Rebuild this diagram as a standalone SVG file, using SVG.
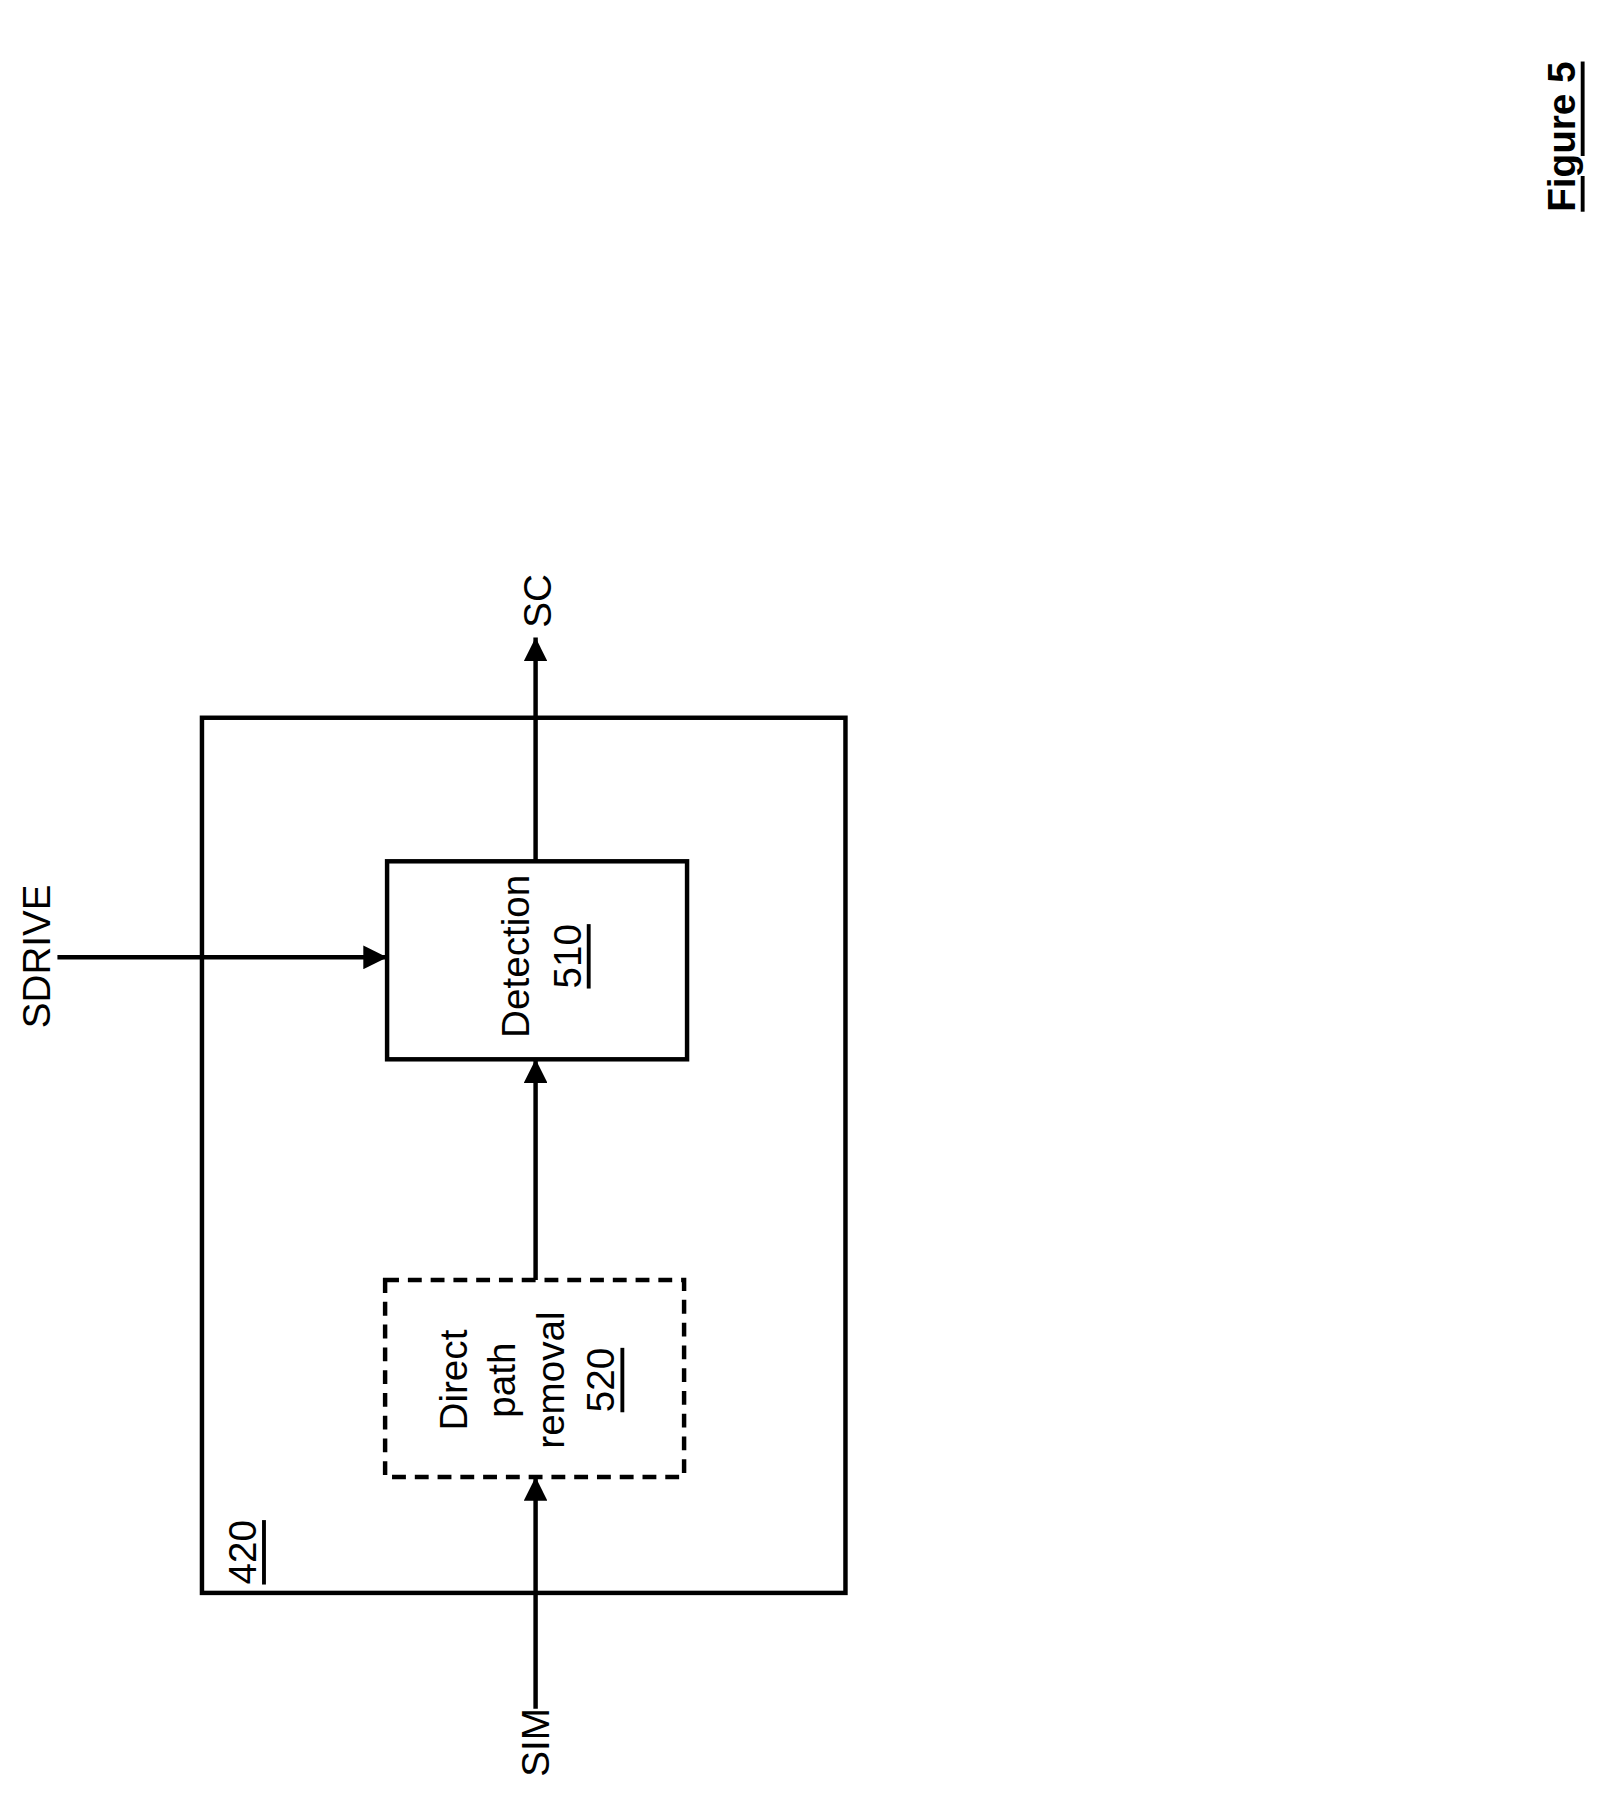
<svg xmlns="http://www.w3.org/2000/svg" width="1601" height="1797" viewBox="0 0 1601 1797">
<defs>
<style>
text{font-family:"Liberation Sans",Arial,sans-serif;font-size:39px;fill:#000;text-anchor:middle;dominant-baseline:central}
.b{fill:#fff;stroke:#000;stroke-width:4.5}
</style>
<marker id="a" viewBox="0 0 10 10" refX="10" refY="5" markerWidth="24" markerHeight="24" markerUnits="userSpaceOnUse" orient="auto"><path d="M0,0 L10,5 L0,10 z" fill="#000"/></marker>
</defs>
<rect width="1601" height="1797" fill="#fff"/>
<g transform="scale(0.99)">
<g id="n420"><rect class="b" x="204" y="725" width="650" height="884"/>
<text transform="translate(245,1568) rotate(-90)" text-decoration="underline">420</text></g>
<g id="n510"><rect class="b" x="391" y="870" width="303" height="200"/>
<text transform="translate(521,966) rotate(-90)">Detection</text>
<text transform="translate(573,966) rotate(-90)" text-decoration="underline">510</text></g>
<g id="n520"><rect class="b" x="389" y="1293" width="302" height="199" stroke-dasharray="14,9"/>
<text transform="translate(458,1394) rotate(-90)">Direct</text>
<text transform="translate(507,1394) rotate(-90)">path</text>
<text transform="translate(556,1394) rotate(-90)">removal</text>
<text transform="translate(607,1394) rotate(-90)" text-decoration="underline">520</text></g>
<g id="connectors" fill="none" stroke="#000" stroke-width="4.5">
<path d="M541,870 V644" marker-end="url(#a)"/>
<path d="M58,967 H391" marker-end="url(#a)"/>
<path d="M541,1293 V1070" marker-end="url(#a)"/>
<path d="M541,1726 V1492" marker-end="url(#a)"/>
</g>
<g id="labels">
<text transform="translate(543,607) rotate(-90)">SC</text>
<text transform="translate(37,966) rotate(-90)">SDRIVE</text>
<text transform="translate(541,1760) rotate(-90)">SIM</text>
<text transform="translate(1577,138) rotate(-90)" font-weight="bold" font-size="46" text-decoration="underline">Figure 5</text>
</g>
</g>
</svg>
